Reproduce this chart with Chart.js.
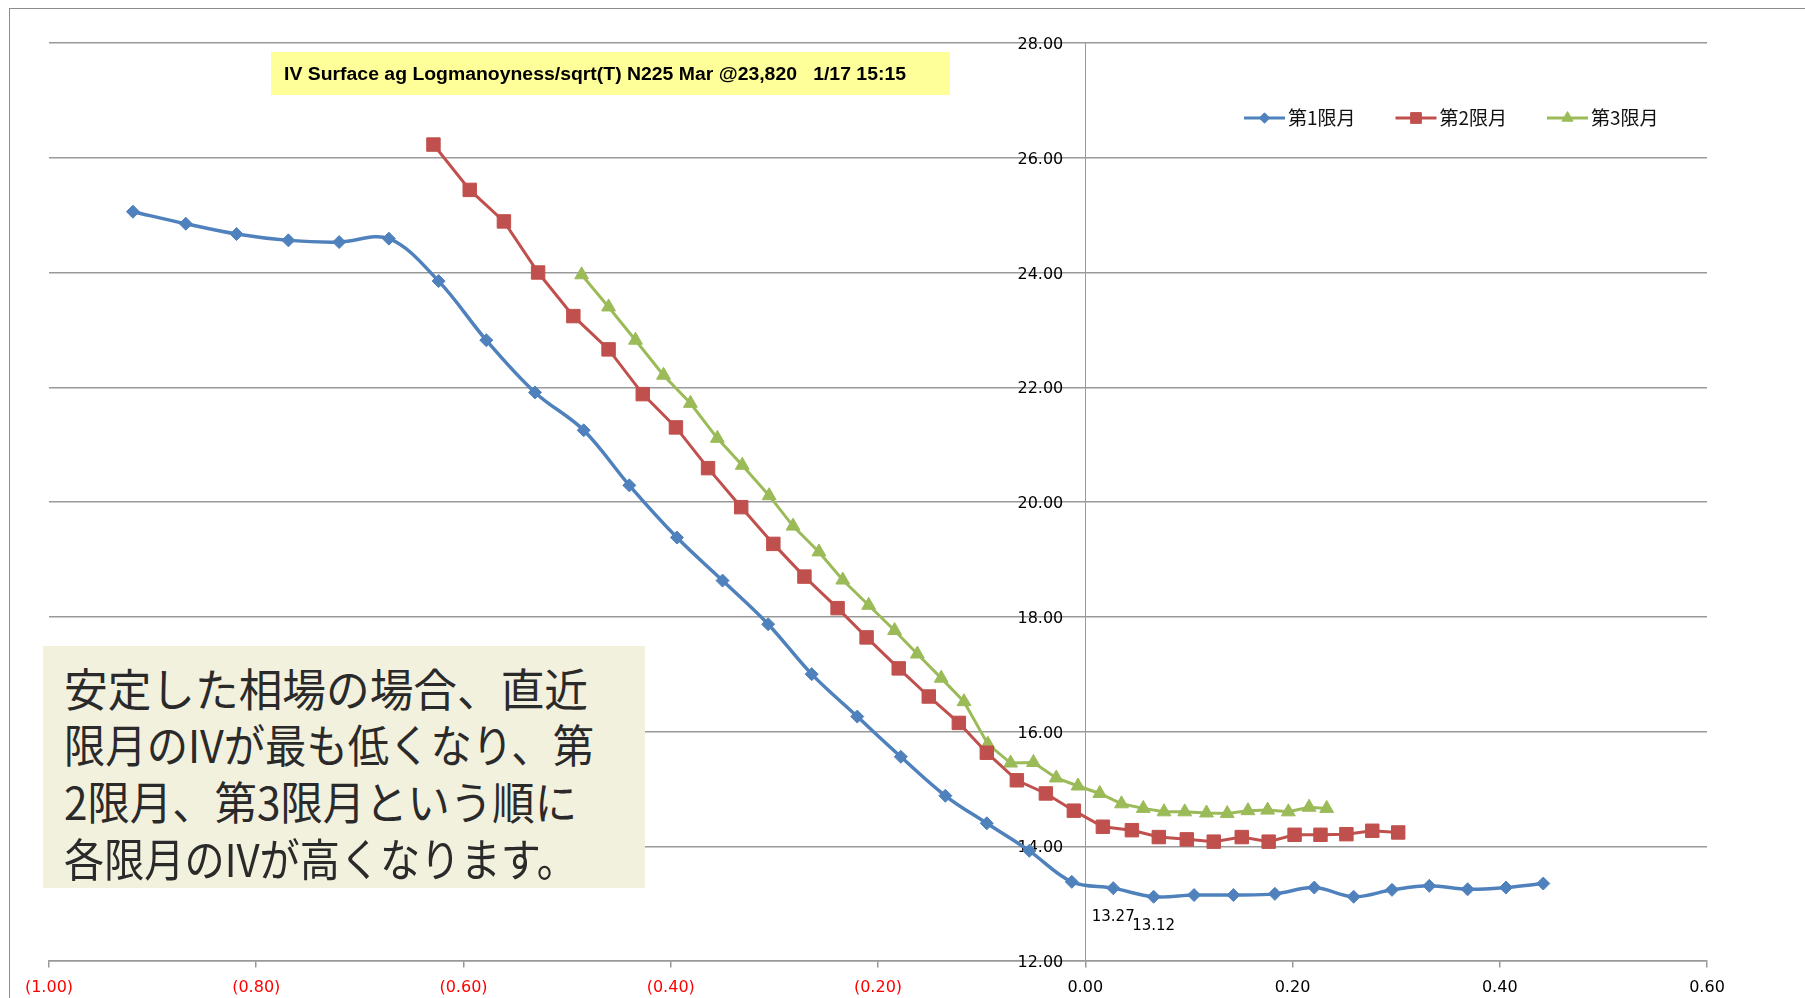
<!DOCTYPE html>
<html><head><meta charset="utf-8">
<script src="https://cdn.jsdelivr.net/npm/chart.js@4.4.1/dist/chart.umd.min.js"></script>
<style>
html,body{margin:0;padding:0;background:#fff;}
#wrap{position:relative;width:1805px;height:998px;overflow:hidden;background:#fff;}
#frame{position:absolute;left:9px;top:8px;width:1900px;height:1100px;border-left:1.5px solid #8c8c8c;border-top:1.5px solid #8c8c8c;}
#c{position:absolute;left:0;top:0;}
#title{position:absolute;left:271px;top:52px;width:679px;height:43px;background:#FFFF99;}
#title span{position:absolute;left:13px;top:1px;height:43px;font:bold 18px "Liberation Sans",Arial,sans-serif;line-height:43px;white-space:pre;transform-origin:left center;color:#000;}
#note{position:absolute;left:43px;top:646px;width:602px;height:242px;background:#F2F1DE;}
.ln{position:absolute;left:21px;height:57px;font:45px "Noto Sans CJK JP",sans-serif;line-height:57px;white-space:pre;transform-origin:left center;color:#2a2a2a;}
</style></head>
<body>
<div id="wrap">
  <div id="frame"></div>
  <canvas id="c" width="1805" height="998"></canvas>
  <div id="title"><span id="ttl"></span></div>
  <div id="note"></div>
</div>
<script>
// ---- data ----
const seriesNames = ['第1限月', '第2限月', '第3限月'];
const titleText = 'IV Surface ag Logmanoyness/sqrt(T) N225 Mar @23,820   1/17 15:15';
const noteLines = ['安定した相場の場合、直近', '限月のIVが最も低くなり、第', '2限月、第3限月という順に', '各限月のIVが高くなります。'];

const x1 = [-0.919,-0.868,-0.819,-0.769,-0.720,-0.672,-0.624,-0.578,-0.531,-0.484,-0.440,-0.394,-0.350,-0.306,-0.264,-0.220,-0.178,-0.135,-0.095,-0.054,-0.013,0.027,0.066,0.105,0.143,0.183,0.221,0.259,0.296,0.332,0.369,0.406,0.442];
const y1 = [25.06,24.85,24.67,24.56,24.53,24.59,23.85,22.82,21.91,21.25,20.29,19.38,18.63,17.87,17.00,16.26,15.56,14.88,14.40,13.92,13.38,13.27,13.12,13.15,13.15,13.17,13.28,13.12,13.24,13.31,13.25,13.28,13.35];

const x2 = [-0.629,-0.594,-0.561,-0.528,-0.494,-0.460,-0.427,-0.395,-0.364,-0.332,-0.301,-0.271,-0.239,-0.211,-0.180,-0.151,-0.122,-0.095,-0.066,-0.038,-0.011,0.017,0.045,0.071,0.098,0.124,0.151,0.177,0.202,0.227,0.252,0.277,0.302];
const y2 = [26.23,25.44,24.89,24.00,23.24,22.66,21.88,21.30,20.59,19.91,19.27,18.70,18.15,17.64,17.10,16.61,16.15,15.63,15.15,14.92,14.62,14.34,14.28,14.16,14.12,14.08,14.16,14.08,14.20,14.20,14.21,14.27,14.24];

const x3 = [-0.486,-0.460,-0.434,-0.407,-0.381,-0.355,-0.331,-0.305,-0.282,-0.257,-0.234,-0.209,-0.184,-0.162,-0.139,-0.117,-0.094,-0.072,-0.050,-0.028,-0.007,0.014,0.035,0.056,0.076,0.096,0.117,0.137,0.157,0.176,0.196,0.216,0.233];
const y3 = [23.96,23.40,22.82,22.21,21.72,21.11,20.64,20.11,19.58,19.13,18.64,18.20,17.76,17.35,16.93,16.52,15.78,15.45,15.46,15.19,15.05,14.92,14.74,14.66,14.60,14.60,14.58,14.57,14.62,14.63,14.60,14.68,14.66];

const labelIdx = [21, 22]; // data labels on series 1
const xTicks = {min: -1, max: 0.6, step: 0.2};
const yTicks = {min: 12, max: 28, step: 2};

// ---- styles ----
const colors = ['#4F81BD', '#C0504D', '#9BBB59'];
const styles = ['rectRot', 'rect', 'triangle'];
const radii = [6.5, 9.5, 8];
const lineWidths = [3.5, 3, 3];
const tensions = [0.35, 0, 0];
const yLabelGap = 0.0212; // y tick labels sit this far left of the x=0 axis

const pts = (xs, ys) => xs.map((x, i) => ({x, y: ys[i]}));
const allX = [x1, x2, x3], allY = [y1, y2, y3];

const datasets = seriesNames.map((n, i) => ({
  label: n,
  data: pts(allX[i], allY[i]),
  showLine: true,
  borderColor: colors[i],
  backgroundColor: colors[i],
  borderWidth: lineWidths[i],
  pointStyle: styles[i],
  pointRadius: radii[i],
  pointBorderWidth: 1,
  pointBorderColor: colors[i],
  pointBackgroundColor: colors[i],
  tension: tensions[i]
}));

function drawMarker(ctx, style, r, x, y, color) {
  ctx.save();
  ctx.fillStyle = color; ctx.strokeStyle = color; ctx.lineWidth = 1;
  ctx.beginPath();
  if (style === 'rectRot') {
    ctx.moveTo(x - r, y); ctx.lineTo(x, y - r); ctx.lineTo(x + r, y); ctx.lineTo(x, y + r);
  } else if (style === 'rect') {
    const s = Math.SQRT1_2 * r; ctx.rect(x - s, y - s, 2 * s, 2 * s);
  } else {
    let a = 0;
    ctx.moveTo(x + Math.sin(a) * r, y - Math.cos(a) * r);
    a += 2 * Math.PI / 3; ctx.lineTo(x + Math.sin(a) * r, y - Math.cos(a) * r);
    a += 2 * Math.PI / 3; ctx.lineTo(x + Math.sin(a) * r, y - Math.cos(a) * r);
  }
  ctx.closePath(); ctx.fill(); ctx.stroke();
  ctx.restore();
}

const overlay = {
  id: 'overlay',
  afterDatasetsDraw(chart) {
    const ctx = chart.ctx;
    // data labels
    const meta = chart.getDatasetMeta(0);
    ctx.save();
    ctx.font = '15px "DejaVu Sans", sans-serif';
    ctx.fillStyle = '#000';
    ctx.textAlign = 'center';
    ctx.textBaseline = 'middle';
    labelIdx.forEach(i => {
      const p = meta.data[i];
      ctx.fillText(y1[i].toFixed(2), p.x, p.y + 29);
    });
    ctx.restore();
    // legend
    ctx.save();
    const ly = 118;
    seriesNames.forEach((n, i) => {
      const x0 = 1244 + i * 151.5;
      ctx.strokeStyle = colors[i];
      ctx.lineWidth = 3;
      ctx.beginPath(); ctx.moveTo(x0, ly); ctx.lineTo(x0 + 41, ly); ctx.stroke();
      drawMarker(ctx, styles[i], radii[i] * 0.8, x0 + 20.5, ly, colors[i]);
      ctx.font = '19px "Noto Sans CJK JP", sans-serif';
      ctx.fillStyle = '#111';
      ctx.textAlign = 'left';
      ctx.textBaseline = 'middle';
      ctx.fillText(n, x0 + 44, ly);
    });
    ctx.restore();
  }
};

const tickFont = {family: '"DejaVu Sans", sans-serif', size: 16};

new Chart(document.getElementById('c'), {
  type: 'scatter',
  data: {datasets},
  options: {
    responsive: false,
    animation: false,
    devicePixelRatio: 1,
    layout: {padding: {left: 49, right: 98, top: 43, bottom: 37}},
    plugins: {legend: {display: false}, tooltip: {enabled: false}},
    scales: {
      x: {
        type: 'linear', position: {y: yTicks.min},
        min: xTicks.min, max: xTicks.max,
        ticks: {
          stepSize: xTicks.step,
          padding: 11,
          font: tickFont,
          color: c => (c.tick && c.tick.value < -1e-9) ? '#FF0000' : '#000',
          callback: v => v < -1e-9 ? '(' + Math.abs(v).toFixed(2) + ')' : Math.abs(v).toFixed(2)
        },
        grid: {drawOnChartArea: false, drawTicks: true, tickLength: 6, color: '#999', lineWidth: 1.5},
        border: {color: '#999', width: 1.5}
      },
      y: {
        type: 'linear', position: {x: 0},
        min: yTicks.min, max: yTicks.max,
        ticks: {stepSize: yTicks.step, display: false},
        grid: {color: '#999', lineWidth: 1.5, drawTicks: false},
        border: {color: '#999', width: 1}
      },
      yLabels: {
        type: 'linear', axis: 'y', position: {x: -yLabelGap},
        min: yTicks.min, max: yTicks.max,
        ticks: {
          stepSize: yTicks.step,
          padding: 0,
          labelOffset: 2,
          font: tickFont,
          color: '#000',
          callback: v => v.toFixed(2)
        },
        grid: {display: false, drawTicks: false},
        border: {display: false}
      }
    }
  },
  plugins: [overlay]
});

// ---- text boxes ----
function fit(el, w) {
  const r = el.getBoundingClientRect().width;
  if (r > 0) el.style.transform = 'scaleX(' + (w / r) + ')';
}
const ttl = document.getElementById('ttl');
ttl.textContent = titleText;
fit(ttl, 622);
const note = document.getElementById('note');
const noteTops = [41, 97.5, 154.5, 211.5];
const noteW = [524, 530, 513, 513];
noteLines.forEach((t, i) => {
  const d = document.createElement('div');
  d.className = 'ln';
  d.textContent = t;
  d.style.top = (noteTops[i] - 28.5) + 'px';
  note.appendChild(d);
  fit(d, noteW[i]);
});
</script>
</body></html>
